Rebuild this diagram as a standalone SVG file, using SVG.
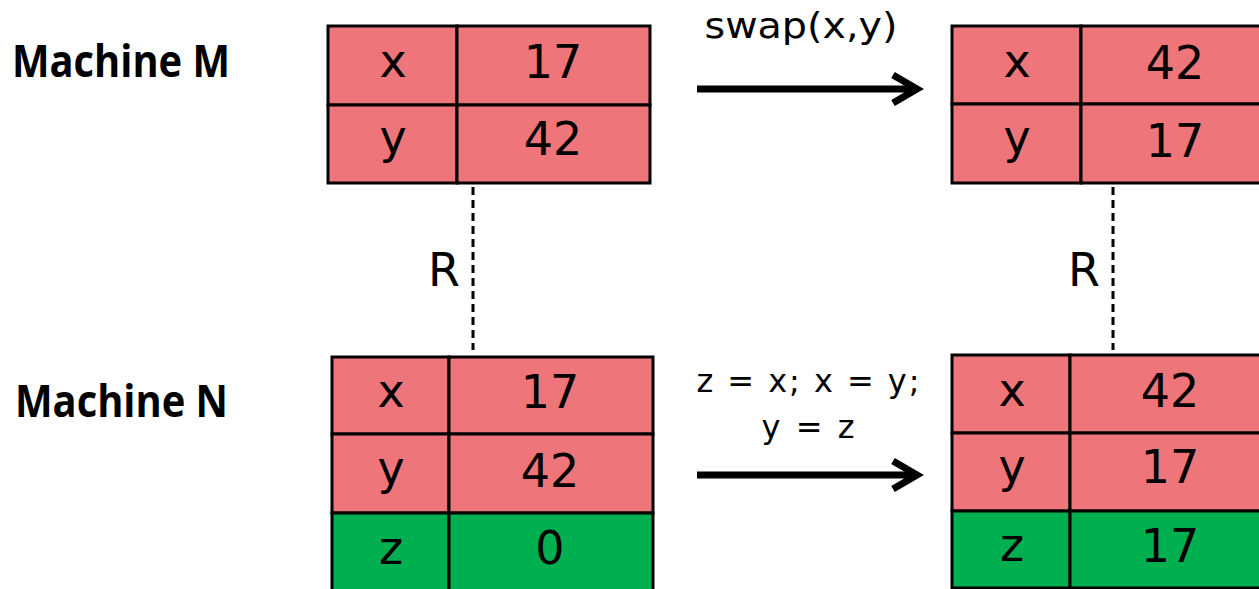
<svg xmlns="http://www.w3.org/2000/svg" width="1259" height="589" viewBox="0 0 1259 589">
  <style>
    .cell { stroke: #000; stroke-width: 3; }
    .red { fill: #EE757A; }
    .green { fill: #00AF50; }
    .t { font-family: "DejaVu Sans", "Open Sans", sans-serif; font-size: 46px; fill: #000; text-anchor: middle; }
    .lbl { font-family: "Open Sans", "DejaVu Sans", sans-serif; font-size: 44px; font-weight: bold; fill: #000; }
    .op { font-family: "DejaVu Sans", sans-serif; fill: #000; text-anchor: middle; }
    .rel { stroke: #000; stroke-width: 3; stroke-dasharray: 8 5; fill: none; }
    .arrow { stroke: #000; stroke-width: 7; fill: none; }
  </style>

  <!-- machine labels -->
  <g id="label-m"><text class="lbl" x="12" y="77" textLength="218" lengthAdjust="spacingAndGlyphs">Machine M</text></g>
  <g id="label-n"><text class="lbl" x="15" y="417" textLength="213" lengthAdjust="spacingAndGlyphs">Machine N</text></g>

  <!-- state of M before swap -->
  <g id="m-before">
    <rect class="cell red" x="328" y="26" width="129" height="79"/>
    <rect class="cell red" x="457" y="26" width="193" height="79"/>
    <rect class="cell red" x="328" y="105" width="129" height="78"/>
    <rect class="cell red" x="457" y="105" width="193" height="78"/>
    <text class="t" x="393" y="77">x</text>
    <text class="t" x="553" y="78">17</text>
    <text class="t" x="393" y="153">y</text>
    <text class="t" x="553" y="155">42</text>
  </g>

  <!-- state of M after swap -->
  <g id="m-after">
    <rect class="cell red" x="952" y="26" width="129" height="78"/>
    <rect class="cell red" x="1081" y="26" width="192" height="78"/>
    <rect class="cell red" x="952" y="104" width="129" height="79"/>
    <rect class="cell red" x="1081" y="104" width="192" height="79"/>
    <text class="t" x="1017" y="77">x</text>
    <text class="t" x="1175" y="79">42</text>
    <text class="t" x="1017" y="153">y</text>
    <text class="t" x="1175" y="157">17</text>
  </g>

  <!-- state of N before swap -->
  <g id="n-before">
    <rect class="cell red" x="332" y="357" width="117" height="77"/>
    <rect class="cell red" x="449" y="357" width="204" height="77"/>
    <rect class="cell red" x="332" y="434" width="117" height="79"/>
    <rect class="cell red" x="449" y="434" width="204" height="79"/>
    <rect class="cell green" x="332" y="513" width="117" height="80"/>
    <rect class="cell green" x="449" y="513" width="204" height="80"/>
    <text class="t" x="391" y="407">x</text>
    <text class="t" x="550" y="408">17</text>
    <text class="t" x="391" y="484">y</text>
    <text class="t" x="550" y="487">42</text>
    <text class="t" x="391" y="564">z</text>
    <text class="t" x="550" y="564">0</text>
  </g>

  <!-- state of N after swap -->
  <g id="n-after">
    <rect class="cell red" x="952" y="355" width="118" height="78"/>
    <rect class="cell red" x="1070" y="355" width="203" height="78"/>
    <rect class="cell red" x="952" y="433" width="118" height="78"/>
    <rect class="cell red" x="1070" y="433" width="203" height="78"/>
    <rect class="cell green" x="952" y="511" width="118" height="77"/>
    <rect class="cell green" x="1070" y="511" width="203" height="77"/>
    <text class="t" x="1012" y="406">x</text>
    <text class="t" x="1170" y="407">42</text>
    <text class="t" x="1012" y="482">y</text>
    <text class="t" x="1170" y="483">17</text>
    <text class="t" x="1012" y="561">z</text>
    <text class="t" x="1170" y="562">17</text>
  </g>

  <!-- transitions and refinement relation -->
  <g id="connectors">
    <line class="arrow" x1="697" y1="89" x2="916" y2="89"/>
    <polyline class="arrow" points="893,75 917,89 893,103" stroke-linejoin="miter"/>
    <line class="arrow" x1="697" y1="475" x2="916" y2="475"/>
    <polyline class="arrow" points="893,461 917,475 893,489" stroke-linejoin="miter"/>
    <line class="rel" x1="473" y1="187" x2="473" y2="350"/>
    <line class="rel" x1="1113" y1="187" x2="1113" y2="350"/>
  </g>

  <g id="labels">
    <text class="op" x="801" y="38" font-size="35" textLength="193" lengthAdjust="spacingAndGlyphs">swap(x,y)</text>
    <text class="op" x="808" y="392" font-size="32" textLength="223" lengthAdjust="spacing">z = x; x = y;</text>
    <text class="op" x="808" y="438" font-size="32" textLength="93" lengthAdjust="spacing">y = z</text>
    <text class="t" x="444" y="286">R</text>
    <text class="t" x="1084" y="286">R</text>
  </g>
</svg>
